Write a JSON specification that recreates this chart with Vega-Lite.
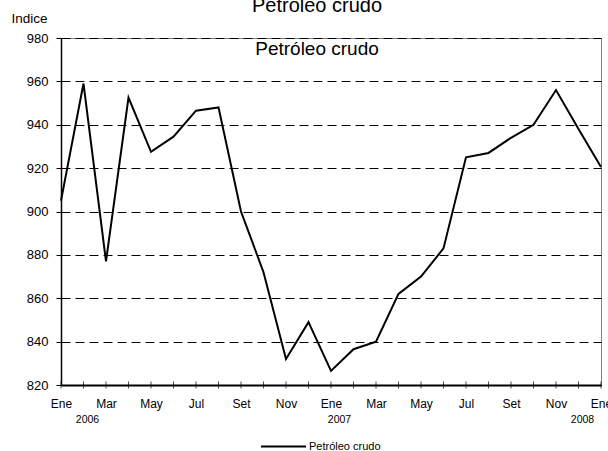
{
  "$schema": "https://vega.github.io/schema/vega-lite/v6.json",
  "width": 540,
  "height": 347,
  "autosize": "none",
  "padding": {"left": 61, "top": 38, "right": 7, "bottom": 66},
  "background": "white",
  "config": {
    "font": "Liberation Sans",
    "view": {"stroke": "#808080", "strokeWidth": 1}
  },
  "title": {
    "text": "Petroleo crudo",
    "subtitle": "Petróleo crudo",
    "fontSize": 20,
    "subtitleFontSize": 19,
    "fontWeight": "normal",
    "color": "black",
    "subtitleColor": "black",
    "font": "Liberation Sans",
    "subtitleFont": "Liberation Sans",
    "anchor": "middle",
    "dx": -14,
    "offset": -48,
    "subtitlePadding": 24
  },
  "data": {
    "values": [
      {"i": 0, "valor": 905, "serie": "Petróleo crudo"},
      {"i": 1, "valor": 959, "serie": "Petróleo crudo"},
      {"i": 2, "valor": 877, "serie": "Petróleo crudo"},
      {"i": 3, "valor": 952.5, "serie": "Petróleo crudo"},
      {"i": 4, "valor": 927.5, "serie": "Petróleo crudo"},
      {"i": 5, "valor": 934.5, "serie": "Petróleo crudo"},
      {"i": 6, "valor": 946.5, "serie": "Petróleo crudo"},
      {"i": 7, "valor": 948, "serie": "Petróleo crudo"},
      {"i": 8, "valor": 900, "serie": "Petróleo crudo"},
      {"i": 9, "valor": 872, "serie": "Petróleo crudo"},
      {"i": 10, "valor": 832, "serie": "Petróleo crudo"},
      {"i": 11, "valor": 849, "serie": "Petróleo crudo"},
      {"i": 12, "valor": 826.5, "serie": "Petróleo crudo"},
      {"i": 13, "valor": 836.5, "serie": "Petróleo crudo"},
      {"i": 14, "valor": 840, "serie": "Petróleo crudo"},
      {"i": 15, "valor": 862, "serie": "Petróleo crudo"},
      {"i": 16, "valor": 870, "serie": "Petróleo crudo"},
      {"i": 17, "valor": 883, "serie": "Petróleo crudo"},
      {"i": 18, "valor": 925, "serie": "Petróleo crudo"},
      {"i": 19, "valor": 927, "serie": "Petróleo crudo"},
      {"i": 20, "valor": 934, "serie": "Petróleo crudo"},
      {"i": 21, "valor": 940, "serie": "Petróleo crudo"},
      {"i": 22, "valor": 956, "serie": "Petróleo crudo"},
      {"i": 23, "valor": 938, "serie": "Petróleo crudo"},
      {"i": 24, "valor": 920.5, "serie": "Petróleo crudo"}
    ]
  },
  "resolve": {"axis": {"x": "independent"}},
  "layer": [
    {
      "mark": {"type": "line", "strokeWidth": 2},
      "encoding": {
        "x": {
          "field": "i",
          "type": "quantitative",
          "scale": {"domain": [0, 24], "nice": false},
          "axis": {
            "orient": "bottom",
            "values": [0, 2, 4, 6, 8, 10, 12, 14, 16, 18, 20, 22, 24],
            "ticks": false,
            "grid": false,
            "domainColor": "black",
            "domainWidth": 2,
            "labelPadding": 13,
            "labelFontSize": 12,
            "labelColor": "black",
            "labelOverlap": false,
            "labelFlush": false,
            "labelBound": false,
            "title": null,
            "labelExpr": "['Ene','Feb','Mar','Abr','May','Jun','Jul','Ago','Set','Oct','Nov','Dic'][datum.value % 12]"
          }
        },
        "y": {
          "field": "valor",
          "type": "quantitative",
          "scale": {"domain": [820, 980], "nice": false, "zero": false},
          "axis": {
            "values": [820, 840, 860, 880, 900, 920, 940, 960, 980],
            "grid": true,
            "gridColor": "black",
            "gridDash": [9, 5],
            "gridWidth": 1,
            "domainColor": "black",
            "domainWidth": 1.5,
            "tickColor": "black",
            "tickSize": 5,
            "labelPadding": 8,
            "labelFontSize": 13,
            "labelColor": "black",
            "title": "Indice",
            "titleAngle": 0,
            "titleAlign": "left",
            "titleBaseline": "middle",
            "titleX": -50,
            "titleY": -20,
            "titleFontSize": 13.5,
            "titleFontWeight": "normal",
            "titleColor": "black"
          }
        },
        "color": {
          "field": "serie",
          "type": "nominal",
          "scale": {"range": ["black"]},
          "legend": {
            "orient": "none",
            "legendX": 199,
            "legendY": 385,
            "title": null,
            "symbolType": "stroke",
            "symbolSize": 2025,
            "symbolStrokeWidth": 2,
            "symbolStrokeColor": "black",
            "labelFontSize": 11,
            "labelColor": "black",
            "labelOffset": 2
          }
        }
      }
    },
    {
      "mark": {"type": "tick", "orient": "vertical", "size": 7, "thickness": 1, "color": "black"},
      "encoding": {
        "x": {
          "field": "i",
          "type": "quantitative",
          "axis": {
            "orient": "bottom",
            "values": [0, 12, 24],
            "domain": false,
            "ticks": false,
            "grid": false,
            "labelPadding": 29,
            "labelFontSize": 10.5,
            "labelColor": "black",
            "labelOverlap": false,
            "labelFlush": false,
            "labelBound": false,
            "labelOffset": {"condition": [{"test": "datum.value == 0", "value": 26}, {"test": "datum.value == 24", "value": -19}], "value": 8},
            "title": null,
            "labelExpr": "'' + (2006 + floor(datum.value / 12))"
          }
        },
        "y": {"datum": 820}
      }
    }
  ]
}
